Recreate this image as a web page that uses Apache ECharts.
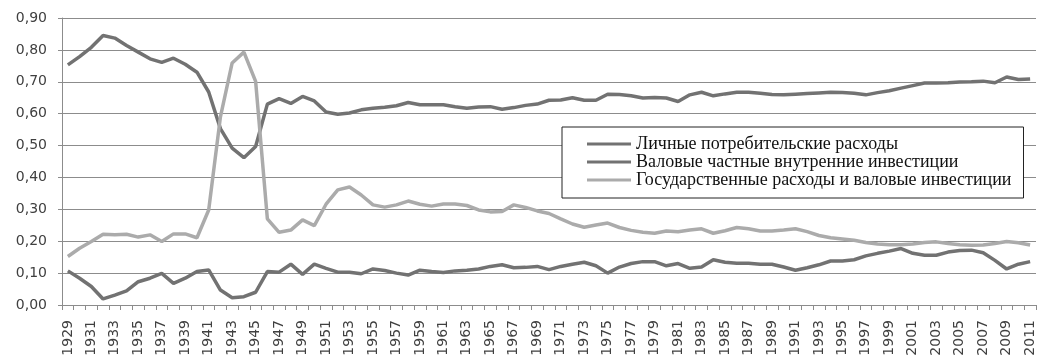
<!DOCTYPE html>
<html>
<head>
<meta charset="utf-8">
<script src="https://cdn.jsdelivr.net/npm/echarts@6/dist/echarts.min.js"></script>
<style>
  html, body { margin: 0; padding: 0; background: #fff; }
  #chart { width: 1041px; height: 362px; }
</style>
</head>
<body>
<div id="chart"></div>
<script>
// Years on the category axis
const years = [
  '1929','1930','1931','1932','1933','1934','1935','1936','1937','1938',
  '1939','1940','1941','1942','1943','1944','1945','1946','1947','1948',
  '1949','1950','1951','1952','1953','1954','1955','1956','1957','1958',
  '1959','1960','1961','1962','1963','1964','1965','1966','1967','1968',
  '1969','1970','1971','1972','1973','1974','1975','1976','1977','1978',
  '1979','1980','1981','1982','1983','1984','1985','1986','1987','1988',
  '1989','1990','1991','1992','1993','1994','1995','1996','1997','1998',
  '1999','2000','2001','2002','2003','2004','2005','2006','2007','2008',
  '2009','2010','2011'
];

// Shares of GDP by component
const consumption = [
  0.753,0.779,0.808,0.845,0.837,0.814,0.793,0.772,0.761,0.774,
  0.755,0.730,0.668,0.553,0.492,0.462,0.497,0.630,0.647,0.632,
  0.654,0.640,0.605,0.598,0.602,0.612,0.617,0.620,0.625,0.635,
  0.628,0.628,0.628,0.622,0.617,0.621,0.622,0.614,0.619,0.626,
  0.630,0.642,0.643,0.650,0.642,0.642,0.661,0.660,0.656,0.649,
  0.651,0.649,0.638,0.659,0.667,0.656,0.662,0.667,0.667,0.664,
  0.660,0.659,0.661,0.663,0.665,0.667,0.666,0.664,0.659,0.666,
  0.672,0.680,0.688,0.696,0.696,0.697,0.699,0.700,0.702,0.697,
  0.715,0.707,0.709
];

const investment = [
  0.107,0.084,0.058,0.019,0.031,0.044,0.073,0.084,0.099,0.068,
  0.084,0.105,0.110,0.047,0.023,0.026,0.040,0.105,0.103,0.128,
  0.096,0.128,0.115,0.103,0.103,0.098,0.113,0.108,0.100,0.094,
  0.109,0.105,0.102,0.107,0.109,0.113,0.121,0.126,0.117,0.118,
  0.121,0.111,0.121,0.128,0.134,0.123,0.100,0.119,0.130,0.136,
  0.136,0.123,0.130,0.115,0.119,0.142,0.134,0.131,0.131,0.128,
  0.128,0.119,0.109,0.117,0.126,0.138,0.138,0.142,0.154,0.162,
  0.169,0.177,0.162,0.156,0.156,0.166,0.171,0.172,0.164,0.140,
  0.113,0.128,0.136
];

const government = [
  0.152,0.178,0.199,0.222,0.220,0.222,0.213,0.220,0.199,0.223,
  0.223,0.211,0.298,0.590,0.759,0.793,0.701,0.270,0.228,0.235,
  0.267,0.249,0.316,0.361,0.370,0.345,0.314,0.307,0.314,0.326,
  0.316,0.310,0.317,0.317,0.312,0.298,0.292,0.293,0.314,0.306,
  0.295,0.287,0.270,0.254,0.244,0.251,0.257,0.243,0.234,0.228,
  0.225,0.232,0.230,0.235,0.239,0.225,0.233,0.243,0.239,0.232,
  0.232,0.235,0.239,0.230,0.218,0.211,0.207,0.203,0.196,0.191,
  0.189,0.189,0.191,0.196,0.198,0.193,0.189,0.187,0.188,0.193,
  0.199,0.195,0.188
];

const seriesNames = [
  'Личные потребительские расходы',
  'Валовые частные внутренние инвестиции',
  'Государственные расходы и валовые инвестиции'
];

const chart = echarts.init(document.getElementById('chart'), null, { renderer: 'canvas' });

function lineSeries(name, data, color) {
  return {
    name: name,
    type: 'line',
    data: data,
    symbol: 'none',
    color: color,
    lineStyle: { width: 3.5, color: color },
    emphasis: { disabled: true },
    silent: true
  };
}

chart.setOption({
  animation: false,
  backgroundColor: '#ffffff',
  grid: { left: 62, right: 5, top: 18, bottom: 57, containLabel: false },
  legend: {
    orient: 'vertical',
    left: 562,
    top: 127,
    padding: [8, 12, 9, 25],
    itemGap: 0,
    itemWidth: 44,
    itemHeight: 3,
    icon: 'rect',
    backgroundColor: '#ffffff',
    borderColor: '#222222',
    borderWidth: 1,
    textStyle: {
      fontFamily: 'Liberation Serif',
      fontSize: 18,
      color: '#111111',
      lineHeight: 18
    },
    data: seriesNames
  },
  xAxis: {
    type: 'category',
    data: years,
    boundaryGap: true,
    axisLine: { show: true, lineStyle: { color: '#8c8c8c', width: 1 } },
    axisTick: { show: true, interval: 0, length: 5, lineStyle: { color: '#8c8c8c' } },
    axisLabel: {
      interval: 1,
      rotate: 90,
      margin: 15,
      fontFamily: 'DejaVu Sans',
      fontSize: 14,
      color: '#404040'
    },
    splitLine: { show: false }
  },
  yAxis: {
    type: 'value',
    min: 0,
    max: 0.9,
    interval: 0.1,
    axisLine: { show: true, lineStyle: { color: '#8c8c8c', width: 1 } },
    axisTick: { show: true, length: 4, lineStyle: { color: '#8c8c8c' } },
    axisLabel: {
      margin: 15,
      fontFamily: 'DejaVu Sans',
      fontSize: 14,
      color: '#404040',
      formatter: v => v.toFixed(2).replace('.', ',')
    },
    splitLine: { show: true, lineStyle: { color: '#8c8c8c', width: 1 } }
  },
  series: [
    lineSeries(seriesNames[0], consumption, '#727272'),
    lineSeries(seriesNames[1], investment, '#727272'),
    lineSeries(seriesNames[2], government, '#ababab')
  ]
});
</script>
</body>
</html>
